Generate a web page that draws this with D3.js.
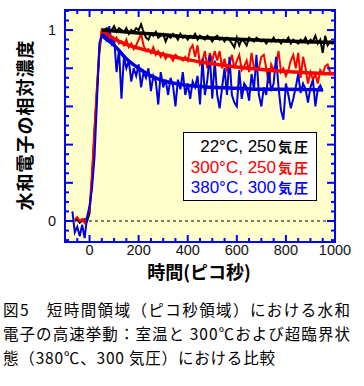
<!DOCTYPE html>
<html><head><meta charset="utf-8">
<script src="https://cdn.jsdelivr.net/npm/d3@7"></script>
<style>
html,body{margin:0;padding:0;background:#fff;}
svg{display:block;}
</style></head>
<body>
<svg id="chart" width="364" height="386"></svg>
<script>
// ---- data ----
const times = [-70,-60,-50,-40,-30,-20,-10,0,10,20,
  30,40,50,60,70,80,90,100,110,120,
  130,140,150,160,170,180,190,200,210,220,
  230,240,250,260,270,280,290,300,310,320,
  330,340,350,360,370,380,390,400,410,420,
  430,440,450,460,470,480,490,500,510,520,
  530,540,550,560,570,580,590,600,610,620,
  630,640,650,660,670,680,690,700,710,720,
  730,740,750,760,770,780,790,800,810,820,
  830,840,850,860,870,880,890,900,910,920,
  930,940,950,960,970,980,990,1000];

const black = [null,0.00,0.01,-0.01,0.00,0.01,0.00,0.04,0.22,0.46,
  0.68,0.88,1.00,1.00,1.01,0.99,1.00,1.02,0.99,1.01,
  1.00,0.99,1.01,0.98,1.00,0.99,1.01,1.00,1.03,0.99,
  0.96,0.95,0.98,0.97,0.99,0.96,0.97,0.98,0.94,0.97,
  0.96,0.98,0.97,0.95,0.98,0.96,0.97,0.95,0.97,0.96,
  0.98,0.95,0.97,0.96,0.95,0.97,0.96,0.94,0.96,0.97,
  0.95,0.96,0.94,0.96,0.95,0.93,0.91,0.96,0.92,0.95,
  0.94,0.92,0.96,0.95,0.94,0.96,0.95,0.94,0.95,0.93,
  0.95,0.94,0.96,0.94,0.95,0.93,0.95,0.94,0.96,0.93,
  0.95,0.94,0.93,0.95,0.94,0.96,0.93,0.95,0.94,0.97,
  0.93,0.95,0.88,0.97,0.92,0.94,0.93,0.94];

const red = [null,0.01,0.02,0.00,0.01,-0.01,0.02,0.06,0.25,0.48,
  0.70,0.90,1.00,0.98,0.97,0.95,0.96,0.94,0.96,0.93,
  0.94,0.92,0.95,0.91,0.93,0.90,0.92,0.95,0.98,0.92,
  0.89,0.90,0.88,0.91,0.87,0.89,0.86,0.88,0.85,0.87,
  0.86,0.84,0.87,0.86,0.85,0.84,0.86,0.84,0.90,0.92,
  0.86,0.92,0.82,0.84,0.89,0.80,0.88,0.84,0.89,0.84,
  0.89,0.80,0.85,0.79,0.82,0.87,0.80,0.84,0.87,0.79,
  0.81,0.84,0.78,0.88,0.80,0.79,0.80,0.86,0.87,0.80,
  0.72,0.82,0.79,0.82,0.89,0.78,0.80,0.76,0.79,0.84,
  0.87,0.80,0.88,0.75,0.86,0.80,0.72,0.78,0.74,0.77,
  0.72,0.79,0.77,0.81,0.82,0.78,0.77,0.78];

const blue = [0.05,-0.06,-0.03,-0.08,-0.02,-0.09,0.02,0.08,0.17,0.33,
  0.62,0.93,0.97,0.99,0.94,1.02,0.93,0.96,0.78,0.90,
  0.64,0.86,0.80,0.84,0.73,0.80,0.76,0.82,0.70,0.78,
  0.75,0.80,0.68,0.76,0.73,0.61,0.78,0.70,0.74,0.66,
  0.75,0.71,0.60,0.74,0.69,0.78,0.66,0.72,0.64,0.73,
  0.70,0.76,0.61,0.85,0.66,0.74,0.87,0.64,0.84,0.66,
  0.59,0.70,0.80,0.66,0.86,0.66,0.62,0.60,0.79,0.64,
  0.72,0.70,0.63,0.77,0.69,0.87,0.66,0.60,0.70,0.66,
  0.80,0.68,0.72,0.86,0.70,0.58,0.53,0.72,0.66,0.59,
  0.64,0.70,0.77,0.67,0.72,0.69,0.62,0.70,0.74,0.60,
  0.69,0.71,0.68,null,null,null,null,null];

const fitTimes = [50,100,150,200,250,300,350,400,450,500,600,700,800,900,950,1000];
const blackFit = [1.00,0.995,0.99,0.985,0.98,0.975,0.97,0.965,0.961,0.958,0.952,0.946,0.942,0.938,0.936,0.935];
const redFit   = [1.00,0.955,0.925,0.905,0.888,0.872,0.858,0.845,0.833,0.823,0.806,0.793,0.783,0.775,0.772,0.770];
const blueFit  = [0.97,0.92,0.85,0.80,0.76,0.735,0.72,0.71,0.705,0.70,0.695,0.69,0.69,0.688,0.686,null];

const xTickLabels = [0,200,400,600,800,1000];
const yTickLabels = [0,1];
const legendLabels = ["22°C, 250","300°C, 250","380°C, 300"];
const legendUnit = "気圧";
const xTitle = "時間(ピコ秒)";
const yTitle = "水和電子の相対濃度";
const caption = ["図5　短時間領域（ピコ秒領域）における水和",
                 "電子の高速挙動：室温と 300℃および超臨界状",
                 "態（380℃、300 気圧）における比較"];

// ---- drawing ----
const svg = d3.select("#chart");
const L = 65, R = 335, T = 10, B = 242;
const x = d3.scaleLinear().domain([-100,1000]).range([L,R]);
const y = d3.scaleLinear().domain([-0.11,1.105]).range([B,T]);
const axisBlue = "#0000ff";
const serBlue = "#0000e0";

svg.append("rect").attr("x",L).attr("y",T).attr("width",R-L).attr("height",B-T)
  .attr("fill","#ffffcc");

svg.append("clipPath").attr("id","clip").append("rect")
  .attr("x",L).attr("y",T).attr("width",R-L).attr("height",B-T);
const plot = svg.append("g").attr("clip-path","url(#clip)");

// zero dashed line
plot.append("line").attr("x1",L).attr("x2",R).attr("y1",y(0)).attr("y2",y(0))
  .attr("stroke","#000").attr("stroke-width",1).attr("stroke-dasharray","3,3");

const line = d3.line().defined(d=>d[1]!==null).x(d=>x(d[0])).y(d=>y(d[1]));
const fitLine = d3.line().defined(d=>d[1]!==null).x(d=>x(d[0])).y(d=>y(d[1])).curve(d3.curveMonotoneX);
const S = {
  black: {vals: black, fit: blackFit, color: "#000000"},
  red:   {vals: red, fit: redFit, color: "#ff0000"},
  blue:  {vals: blue, fit: blueFit, color: serBlue}
};
function drawData(s){
  plot.append("path").datum(times.map((t,i)=>[t,s.vals[i]]))
    .attr("d",line).attr("fill","none").attr("stroke",s.color).attr("stroke-width",2);
}
function drawFit(s){
  plot.append("path").datum(fitTimes.map((t,i)=>[t,s.fit[i]]))
    .attr("d",fitLine).attr("fill","none").attr("stroke",s.color).attr("stroke-width",3.5);
}
drawData(S.black); drawData(S.red); drawData(S.blue);
drawFit(S.blue); drawFit(S.red); drawFit(S.black);

// axes ticks (inward on all sides)
const xMinor = d3.range(-100,1001,50);
const yMinor = d3.range(-0.1,1.101,0.05).map(v=>Math.round(v*100)/100);
const tg = svg.append("g").attr("stroke",axisBlue).attr("stroke-width",2);
xMinor.forEach(v=>{
  const major = Math.round(v)%200===0;
  const len = major?7:4;
  tg.append("line").attr("x1",x(v)).attr("x2",x(v)).attr("y1",B).attr("y2",B-len);
  tg.append("line").attr("x1",x(v)).attr("x2",x(v)).attr("y1",T).attr("y2",T+len);
});
yMinor.forEach(v=>{
  const major = Math.abs(Math.round(v*100)%20)===0;
  const len = major?8:4;
  tg.append("line").attr("y1",y(v)).attr("y2",y(v)).attr("x1",L).attr("x2",L+len);
  tg.append("line").attr("y1",y(v)).attr("y2",y(v)).attr("x1",R).attr("x2",R-len);
});
svg.append("rect").attr("x",L).attr("y",T).attr("width",R-L).attr("height",B-T)
  .attr("fill","none").attr("stroke",axisBlue).attr("stroke-width",2);

// tick labels
svg.append("g").selectAll("text").data(xTickLabels).join("text")
  .attr("x",d=>x(d)).attr("y",254.5).attr("text-anchor","middle")
  .attr("font-family","Liberation Sans, Arial, sans-serif").attr("font-size",14.5)
  .attr("fill","#111").text(d=>d);
svg.append("g").selectAll("text").data(yTickLabels).join("text")
  .attr("x",56).attr("y",d=>y(d)+5).attr("text-anchor","end")
  .attr("font-family","Liberation Sans, Arial, sans-serif").attr("font-size",14.5)
  .attr("fill","#111").text(d=>d);

// titles
svg.append("text").attr("x",199).attr("y",279).attr("text-anchor","middle")
  .attr("font-family","Noto Sans CJK JP").attr("font-weight","bold").attr("font-size",18)
  .text(xTitle);
svg.append("text").attr("transform","translate(32,125) rotate(-90)").attr("text-anchor","middle")
  .attr("font-family","Noto Sans CJK JP").attr("font-weight","bold").attr("font-size",18)
  .attr("letter-spacing",1).text(yTitle);

// legend
svg.append("rect").attr("x",183.5).attr("y",132.5).attr("width",133).attr("height",68)
  .attr("fill","#fff").attr("stroke","#000").attr("stroke-width",1);
const legColors = ["#000000","#ff0000",axisBlue];
const legY = [152,172.5,193];
legendLabels.forEach((lab,i)=>{
  svg.append("text").attr("x",276).attr("y",legY[i]).attr("text-anchor","end")
    .attr("fill",legColors[i]).attr("font-size",17)
    .attr("font-family","Liberation Sans, Arial, sans-serif").text(lab);
  svg.append("text").attr("x",278).attr("y",legY[i]).attr("text-anchor","start")
    .attr("fill",legColors[i]).attr("font-size",14).attr("letter-spacing",2)
    .attr("font-family","Noto Sans CJK JP").attr("font-weight","bold").text(legendUnit);
});

// caption
const capY = [316,340,364];
const capLen = [347,347,272];
caption.forEach((c,i)=>{
  svg.append("text").attr("x",3).attr("y",capY[i])
    .attr("font-family","Noto Sans CJK JP").attr("font-size",15.5)
    .attr("textLength",capLen[i]).attr("lengthAdjust","spacing")
    .attr("fill","#000").text(c);
});
</script>
</body></html>
